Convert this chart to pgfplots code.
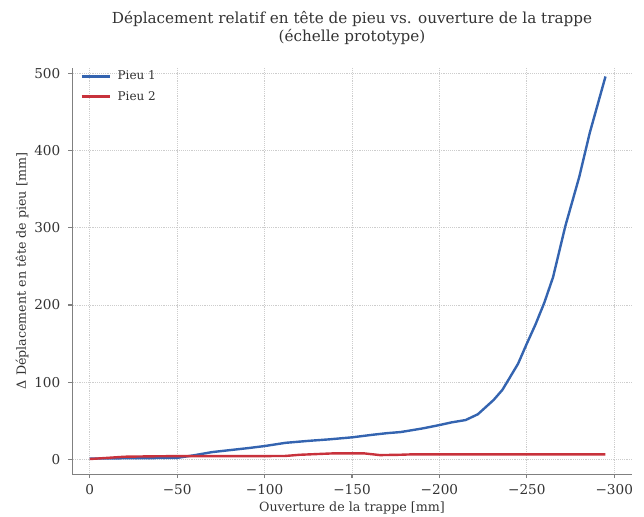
\documentclass[border=0pt]{standalone}
\usepackage{pgfplots}
\pgfplotsset{compat=1.18}
\usepackage{fontspec}
\setmainfont{DejaVu Serif}

\definecolor{pieuA}{RGB}{52,100,176}
\definecolor{pieuB}{RGB}{200,50,60}
\definecolor{txt}{RGB}{51,51,51}
\definecolor{spine}{RGB}{128,128,128}
\definecolor{gridc}{RGB}{205,205,205}

\begin{document}
\begin{tikzpicture}
\path[use as bounding box] (-54.2pt,-31.5pt) rectangle (428.7pt,355.5pt);
\begin{axis}[
    at={(0,0)}, anchor=south west,
    scale only axis,
    width=419.5pt, height=304.5pt,
    x dir=reverse,
    xmin=-310, xmax=10,
    ymin=-19, ymax=507,
    axis x line*=bottom,
    axis y line*=left,
    axis line style={spine, line width=0.8pt, -},
    tick style={spine, line width=0.8pt},
    tick align=outside,
    major tick length=3pt,
    xtick={0,-50,-100,-150,-200,-250,-300},
    xticklabels={0,−50,−100,−150,−200,−250,−300},
    ytick={0,100,200,300,400,500},
    yticklabels={0,100,200,300,400,500},
    ticklabel style={font=\fontsize{10.2}{12}\selectfont, text=txt},
    xticklabel style={yshift=-1.5pt},
    yticklabel style={xshift=-2.5pt},
    xmajorgrids, ymajorgrids,
    major grid style={densely dotted, gridc, line width=0.6pt},
    title={Déplacement relatif en tête de pieu vs. ouverture de la trappe\\(échelle prototype)},
    title style={align=center, font=\fontsize{11.4}{13.5}\selectfont, text=txt, at={(0.5,1)}, anchor=south, yshift=8pt},
    xlabel={Ouverture de la trappe [mm]},
    ylabel={Δ Déplacement en tête de pieu [mm]},
    xlabel style={yshift=1.5pt},
    ylabel style={yshift=-2.5pt},
    label style={font=\fontsize{9.5}{11}\selectfont, text=txt},
    legend style={at={(0.0,1.0)}, anchor=north west, xshift=3pt, yshift=2pt,
        draw=none, fill=none,
        font=\fontsize{9}{11}\selectfont, text=txt, row sep=3pt},
    legend cell align=left,
    legend image code/.code={\draw[#1, line width=1.8pt] (0pt,0pt) -- (21pt,0pt);},
]
\addplot[pieuA, line width=1.8pt, line join=round] coordinates {
    (0,1.0)(-10,1.3)(-20,1.5)(-30,1.7)(-40,1.8)(-50,2.0)(-60,5.5)(-70,9.5)
    (-80,12)(-90,14.5)(-100,17.3)(-112,21.5)(-125,24)(-137,26)(-150,28.6)
    (-162,32)(-170,34)(-178,35.5)(-190,40)(-200,44.5)(-207,48)(-215,51)
    (-222,58.5)(-231,77)(-236,90)(-240,105)(-245,124)(-250,150)(-255,175)
    (-260,203)(-265,236)(-272,302)(-280,366)(-286,423)(-295,496)
};
\addlegendentry{\hspace{3pt}Pieu 1}
\addplot[pieuB, line width=1.8pt, line join=round] coordinates {
    (0,0.5)(-10,2)(-20,3.5)(-35,4)(-50,4.3)(-75,4.3)(-100,4.3)(-112,4.5)
    (-120,6)(-139,7.8)(-157,7.8)(-166,5.6)(-177,6)(-185,6.6)(-200,6.6)
    (-250,6.6)(-295,6.6)
};
\addlegendentry{\hspace{3pt}Pieu 2}
\end{axis}
\end{tikzpicture}
\end{document}
